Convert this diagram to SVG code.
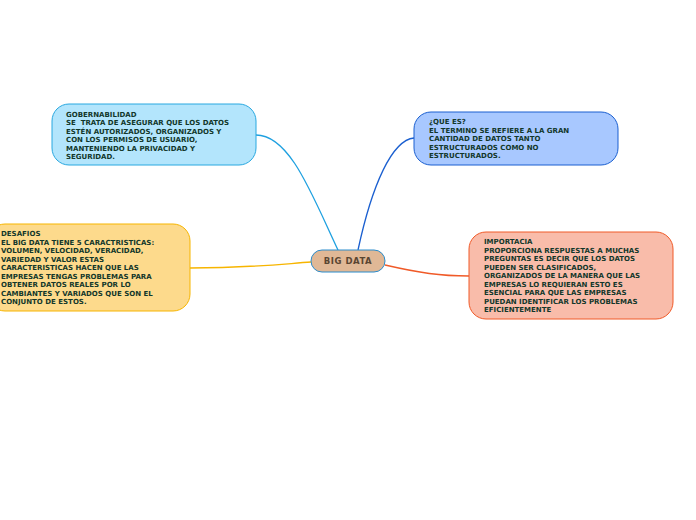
<svg xmlns="http://www.w3.org/2000/svg" width="696" height="520" viewBox="0 0 696 520">
<style>
.t{font-family:"DejaVu Sans",Verdana,sans-serif;font-weight:bold;font-size:7px;fill:#12372a;white-space:pre}
.c{fill:none;stroke-width:1.3}
</style>
<rect width="696" height="520" fill="#ffffff"/>
<g id="connectors">
<path class="c" stroke="#1ea0e0" d="M256,135 C290,135 312,195 338,250"/>
<path class="c" stroke="#1a5fd0" d="M414,138 C392,140 372,185 358,250"/>
<path class="c" stroke="#f7b500" d="M190,268 C250,268 282,264 311,262"/>
<path class="c" stroke="#f05a28" d="M385,265 C420,273 440,276 469,276"/>
</g>
<g id="gobernabilidad">
<rect x="52" y="104" width="204" height="61" rx="17" fill="#b3e5fc" stroke="#29a8e0"/>
<text class="t" x="66" y="116.5">GOBERNABILIDAD</text>
<text class="t" x="66" y="125">SE  TRATA DE ASEGURAR QUE LOS DATOS</text>
<text class="t" x="66" y="133.5">ESTÉN AUTORIZADOS, ORGANIZADOS Y</text>
<text class="t" x="66" y="142">CON LOS PERMISOS DE USUARIO,</text>
<text class="t" x="66" y="150.5">MANTENIENDO LA PRIVACIDAD Y</text>
<text class="t" x="66" y="159">SEGURIDAD.</text>
</g>
<g id="que-es">
<rect x="414" y="112" width="204" height="53" rx="17" fill="#a8c8ff" stroke="#1a5fd0"/>
<text class="t" x="429" y="124">¿QUE ES?</text>
<text class="t" x="429" y="132.5">EL TERMINO SE REFIERE A LA GRAN</text>
<text class="t" x="429" y="141">CANTIDAD DE DATOS TANTO</text>
<text class="t" x="429" y="149.5">ESTRUCTURADOS COMO NO</text>
<text class="t" x="429" y="158">ESTRUCTURADOS.</text>
</g>
<g id="desafios">
<rect x="-12" y="224" width="202" height="87" rx="17" fill="#fdda8c" stroke="#f7b500"/>
<text class="t" x="1" y="236">DESAFIOS</text>
<text class="t" x="1" y="244.5">EL BIG DATA TIENE 5 CARACTRISTICAS:</text>
<text class="t" x="1" y="253">VOLUMEN, VELOCIDAD, VERACIDAD,</text>
<text class="t" x="1" y="261.5">VARIEDAD Y VALOR ESTAS</text>
<text class="t" x="1" y="270">CARACTERISTICAS HACEN QUE LAS</text>
<text class="t" x="1" y="278.5">EMPRESAS TENGAS PROBLEMAS PARA</text>
<text class="t" x="1" y="287">OBTENER DATOS REALES POR LO</text>
<text class="t" x="1" y="295.5">CAMBIANTES Y VARIADOS QUE SON EL</text>
<text class="t" x="1" y="304">CONJUNTO DE ESTOS.</text>
</g>
<g id="importacia">
<rect x="469" y="232" width="204" height="87" rx="17" fill="#f9bcaa" stroke="#f05a28"/>
<text class="t" x="484" y="244">IMPORTACIA</text>
<text class="t" x="484" y="252.5">PROPORCIONA RESPUESTAS A MUCHAS</text>
<text class="t" x="484" y="261">PREGUNTAS ES DECIR QUE LOS DATOS</text>
<text class="t" x="484" y="269.5">PUEDEN SER CLASIFICADOS,</text>
<text class="t" x="484" y="278">ORGANIZADOS DE LA MANERA QUE LAS</text>
<text class="t" x="484" y="286.5">EMPRESAS LO REQUIERAN ESTO ES</text>
<text class="t" x="484" y="295">ESENCIAL PARA QUE LAS EMPRESAS</text>
<text class="t" x="484" y="303.5">PUEDAN IDENTIFICAR LOS PROBLEMAS</text>
<text class="t" x="484" y="312">EFICIENTEMENTE</text>
</g>
<g id="big-data">
<rect x="311" y="250" width="74" height="22" rx="11" fill="#e0b896" stroke="#2a8ccc"/>
<text x="348" y="264" text-anchor="middle" style="font-family:'DejaVu Sans',Verdana,sans-serif;font-weight:bold;font-size:8.5px;fill:#5a4632;letter-spacing:0.5px">BIG DATA</text>
</g>
</svg>
